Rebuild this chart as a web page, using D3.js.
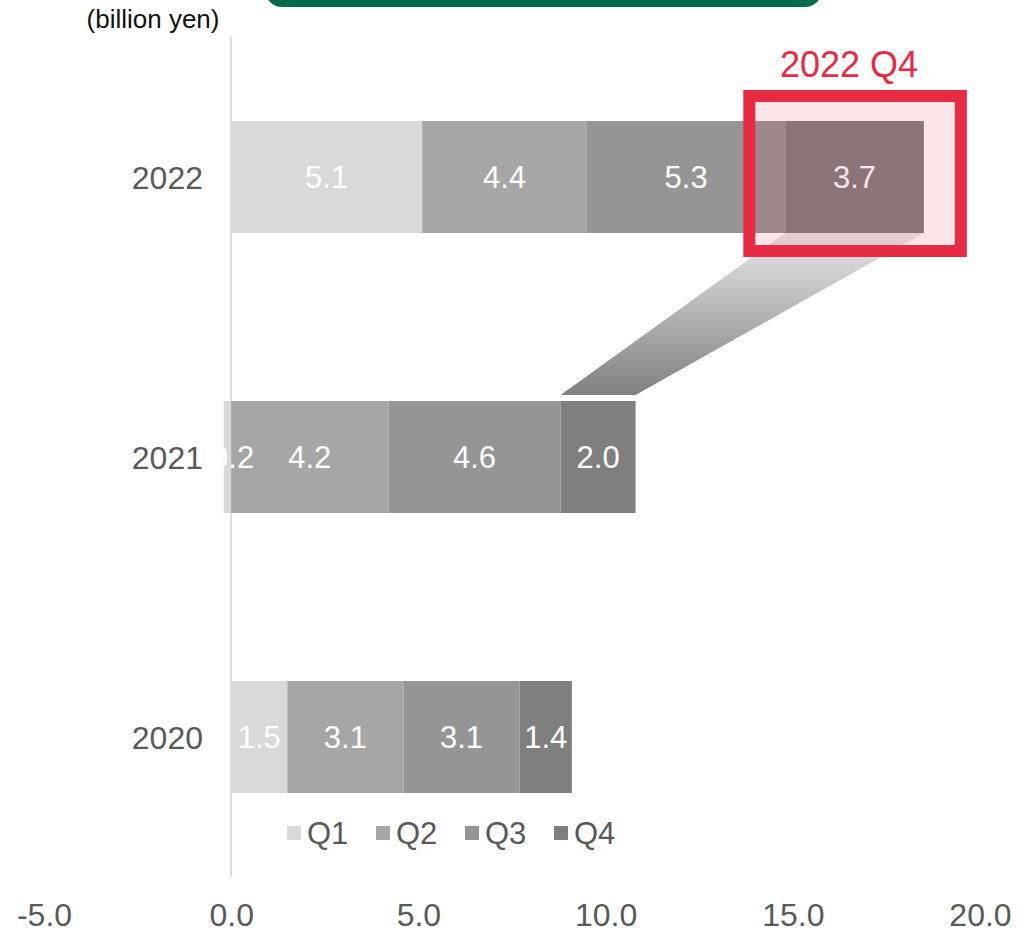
<!DOCTYPE html>
<html>
<head>
<meta charset="utf-8">
<script src="https://cdn.jsdelivr.net/npm/d3@7"></script>
<style>
  html, body { margin: 0; padding: 0; background: #fff; }
  svg { display: block; font-family: "Liberation Sans", Arial, sans-serif; }
</style>
</head>
<body>
<svg id="chart" width="1033" height="933"></svg>
<script>
// Quarterly values (billion yen) per fiscal year
const years = ["2022", "2021", "2020"];
const quarters = ["Q1", "Q2", "Q3", "Q4"];
const q1 = [5.1, -0.2, 1.5];
const q2 = [4.4, 4.2, 3.1];
const q3 = [5.3, 4.6, 3.1];
const q4 = [3.7, 2.0, 1.4];
const xTicks = [-5, 0, 5, 10, 15, 20];
const unitLabel = "(billion yen)";
const highlightYear = "2022";
const highlightQuarter = "Q4";
const sourceYear = "2021";

const colors = { Q1: "#d9d9d9", Q2: "#a6a6a6", Q3: "#959595", Q4: "#7f7f7f" };
const red = "#e62b45";
const textGrey = "#595959";

const rows = years.map((y, i) => ({ year: y, Q1: q1[i], Q2: q2[i], Q3: q3[i], Q4: q4[i] }));

const svg = d3.select("#chart");

const x = d3.scaleLinear().domain([-5, 20]).range([44, 980]);
const y = d3.scaleBand().domain(years).range([37, 877]).paddingInner(0.6).paddingOuter(0.3);

const series = d3.stack().keys(quarters).offset(d3.stackOffsetDiverging)(rows);

// Decorative header tab
svg.append("rect")
  .attr("x", 265).attr("y", -30).attr("width", 557).attr("height", 37)
  .attr("rx", 17).attr("fill", "#006a4a");

// Gradient used by the connector between years
const defs = svg.append("defs");
const grad = defs.append("linearGradient")
  .attr("id", "connGrad").attr("x1", 0).attr("y1", 0).attr("x2", 0).attr("y2", 1);
grad.append("stop").attr("offset", "0%").attr("stop-color", "#e8e8e8");
grad.append("stop").attr("offset", "100%").attr("stop-color", "#7f7f7f");

// Zero line
svg.append("line")
  .attr("x1", x(0)).attr("x2", x(0))
  .attr("y1", 37).attr("y2", 877)
  .attr("stroke", "#d9d9d9").attr("stroke-width", 2);

// Stacked bars
const layers = svg.append("g").selectAll("g")
  .data(series).join("g")
  .attr("fill", d => colors[d.key]);

layers.selectAll("rect")
  .data(d => d.map(s => ({ key: d.key, s })))
  .join("rect")
  .attr("x", d => x(Math.min(d.s[0], d.s[1])))
  .attr("y", d => y(d.s.data.year))
  .attr("width", d => Math.abs(x(d.s[1]) - x(d.s[0])))
  .attr("height", y.bandwidth());

// Value labels
const labels = svg.append("g");
series.forEach(layer => {
  layer.forEach(s => {
    const v = s.data[layer.key];
    labels.append("text")
      .attr("x", x((s[0] + s[1]) / 2))
      .attr("y", y(s.data.year) + y.bandwidth() / 2)
      .attr("dy", "0.36em")
      .attr("text-anchor", "middle")
      .attr("fill", "#fff")
      .attr("font-size", 31)
      .text(v.toFixed(1));
  });
});

// Category labels
svg.append("g").selectAll("text")
  .data(years).join("text")
  .attr("x", 203)
  .attr("y", d => y(d) + y.bandwidth() / 2)
  .attr("dy", "0.36em")
  .attr("text-anchor", "end")
  .attr("fill", textGrey)
  .attr("font-size", 32)
  .text(d => d);

// Bottom axis labels
const axis = svg.append("g")
  .attr("transform", "translate(0,903)")
  .call(d3.axisBottom(x).tickValues(xTicks).tickFormat(d3.format(".1f")).tickSize(0).tickPadding(0));
axis.select(".domain").remove();
axis.selectAll("text")
  .attr("font-family", "'Liberation Sans', Arial, sans-serif")
  .attr("font-size", 32)
  .attr("fill", textGrey)
  .attr("dy", "0.71em")
  .text(d => d < 0 ? "-" + Math.abs(d).toFixed(1) : d.toFixed(1));

// Unit label
svg.append("text")
  .attr("x", 153).attr("y", 28)
  .attr("text-anchor", "middle")
  .attr("fill", "#111")
  .attr("font-size", 26)
  .text(unitLabel);

// Connector from the previous year's Q4 to the highlighted Q4
const hiSeries = series.find(s => s.key === highlightQuarter);
const hi = hiSeries.find(s => s.data.year === highlightYear);
const src = hiSeries.find(s => s.data.year === sourceYear);
const topY = y(highlightYear) + y.bandwidth();
const botY = y(sourceYear) - 6;
svg.append("path")
  .attr("d", d3.line()([
    [x(hi[0]), topY], [x(hi[1]), topY],
    [x(src[1]), botY], [x(src[0]), botY]
  ]) + "Z")
  .attr("fill", "url(#connGrad)");

// Highlight frame
const boxL = x(hi[0]) - 36, boxR = x(hi[1]) + 37;
const boxT = y(highlightYear) - 25, boxB = y(highlightYear) + y.bandwidth() + 18;
svg.append("rect")
  .attr("x", boxL).attr("y", boxT)
  .attr("width", boxR - boxL).attr("height", boxB - boxT)
  .attr("fill", red).attr("fill-opacity", 0.12)
  .attr("stroke", red).attr("stroke-width", 12);

svg.append("text")
  .attr("x", (boxL + boxR) / 2 - 6).attr("y", 77)
  .attr("text-anchor", "middle")
  .attr("fill", red)
  .attr("font-size", 36)
  .text(highlightYear + " " + highlightQuarter);

// Legend
const legend = svg.append("g").selectAll("g")
  .data(quarters).join("g")
  .attr("transform", (d, i) => `translate(${287 + i * 89},0)`);
legend.append("rect")
  .attr("x", 0).attr("y", 826).attr("width", 14).attr("height", 14)
  .attr("fill", d => colors[d]);
legend.append("text")
  .attr("x", 20).attr("y", 833)
  .attr("dy", "0.36em")
  .attr("fill", textGrey)
  .attr("font-size", 31)
  .text(d => d);
</script>
</body>
</html>
